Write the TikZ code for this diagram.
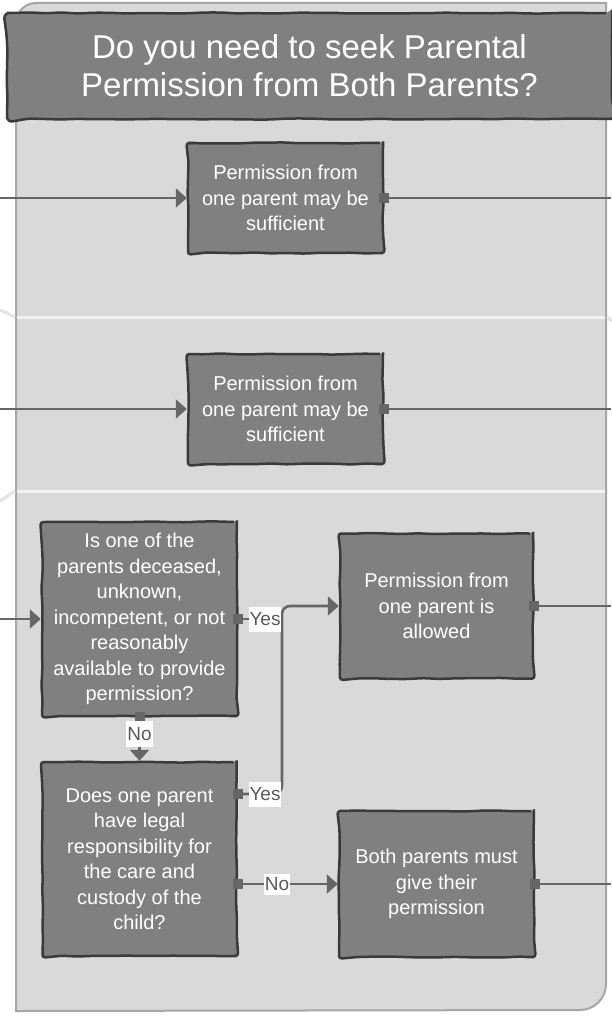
\documentclass[tikz,border=0pt]{standalone}
\usepackage{fontspec}
\setmainfont{Liberation Sans}
\usetikzlibrary{arrows.meta,decorations.pathmorphing,calc}
\definecolor{bgc}{HTML}{D9D9D9}
\definecolor{bordc}{HTML}{A6A6A6}
\definecolor{sepc}{HTML}{F2F2F2}
\definecolor{stubc}{HTML}{E4E4E4}
\definecolor{boxc}{HTML}{808080}
\definecolor{edgec}{HTML}{3A3A3A}
\definecolor{linec}{HTML}{666666}
\definecolor{lblc}{HTML}{595959}
\tikzset{
  sketch/.style={decorate, decoration={random steps, segment length=16pt, amplitude=0.6pt}},
  stepbox/.style={draw=edgec, line width=2.5pt, fill=boxc, text=white, align=center,
    inner sep=0pt, font=\fontsize{20}{25.5}\selectfont, rounded corners=3pt},
  titlebox/.style={draw=edgec, line width=2.5pt, fill=boxc, text=white, align=center,
    inner sep=0pt, font=\fontsize{33}{38}\selectfont, rounded corners=6pt},
  conn/.style={draw=linec, line width=2.6pt},
  arr/.style={conn, -{Triangle[length=11pt,width=19pt]}},
  sq/.style={fill=linec, minimum size=10pt, inner sep=0pt},
  lbl/.style={fill=white, text=lblc, inner sep=0pt, font=\fontsize{19}{22}\selectfont},
}
\begin{document}
\begin{tikzpicture}[x=1pt, y=-1pt]
\pgfmathsetseed{7}
\useasboundingbox (0,0) rectangle (611,1019);
\fill[white] (0,0) rectangle (611,1019);
% container
\draw[fill=bgc, draw=bordc, line width=2pt]
  (16,1011) -- (16,23) arc[start angle=180, end angle=90, radius=20pt]
  -- (606,3) -- (606,984) arc[start angle=0, end angle=-90, radius=26pt]
  -- cycle;
% lane separators and stubs
\draw[sepc, line width=3pt] (17,317) -- (605,317);
\draw[sepc, line width=3pt] (17,491) -- (605,491);
\draw[stubc, line width=3pt] (0,310) -- (15,317);
\draw[stubc, line width=3pt] (0,501) -- (15,491);
\draw[stubc, line width=3pt] (607,317) -- (612,321);
% title
\node[titlebox, sketch, minimum width=605pt, minimum height=106pt] (title) at (309.5,66)
  {Do you need to seek Parental\\Permission from Both Parents?};
% boxes
\node[stepbox, sketch, minimum width=195pt, minimum height=110pt] (b1) at (285.5,198)
  {Permission from\\one parent may be\\sufficient};
\node[stepbox, sketch, minimum width=195pt, minimum height=110pt] (b2) at (285.5,409)
  {Permission from\\one parent may be\\sufficient};
\node[stepbox, sketch, minimum width=195pt, minimum height=194pt] (q1) at (139.5,619)
  {Is one of the\\parents deceased,\\unknown,\\incompetent, or not\\reasonably\\available to provide\\permission?};
\node[stepbox, sketch, minimum width=193pt, minimum height=145pt] (r1) at (436.5,606)
  {Permission from\\one parent is\\allowed};
\node[stepbox, sketch, minimum width=194pt, minimum height=194pt] (q2) at (139.5,859)
  {Does one parent\\have legal\\responsibility for\\the care and\\custody of the\\child?};
\node[stepbox, sketch, minimum width=195pt, minimum height=146pt] (r2) at (436.5,884)
  {Both parents must\\give their\\permission};
% free ends
\coordinate (in1) at (0,198);
\coordinate (in2) at (0,409);
\coordinate (in3) at (0,619);
\coordinate (out1) at (611,198);
\coordinate (out2) at (611,409);
\coordinate (out3) at (611,606);
\coordinate (out4) at (611,884);
\coordinate (jn) at (282,606);
\coordinate (q2yes) at ([yshift=65pt]q2.east);
% connectors
\draw[arr] (in1) -- (b1.west);
\draw[arr] (in2) -- (b2.west);
\draw[arr] (in3) -- (q1.west);
\draw[conn] (b1.east) -- (out1);
\draw[conn] (b2.east) -- (out2);
\draw[conn] (r1.east) -- (out3);
\draw[conn] (r2.east) -- (out4);
\draw[conn] (q1.east) -- (q1.east -| jn);
\draw[arr, rounded corners=8pt] (q2yes) -- (q2yes -| jn) -- (jn) -- (r1.west);
\draw[arr] (q1.south) -- (q2.north);
\draw[arr] (q2.east |- r2.west) -- (r2.west);
% start squares
\node[sq] at (b1.east) {};
\node[sq] at (b2.east) {};
\node[sq] at (r1.east) {};
\node[sq] at (r2.east) {};
\node[sq] at (q1.east) {};
\node[sq] at (q1.south) {};
\node[sq] at (q2yes) {};
\node[sq] at (q2.east |- r2.west) {};
% labels
\node[lbl, minimum width=32pt, minimum height=25pt] (l1) at (265,619) {Yes};
\node[lbl, minimum width=32pt, minimum height=25pt] (l2) at (265,794) {Yes};
\node[lbl, minimum width=27pt, minimum height=26pt] (l3) at (139.5,734) {No};
\node[lbl, minimum width=26pt, minimum height=21pt] (l4) at (277,884) {No};
\end{tikzpicture}
\end{document}
